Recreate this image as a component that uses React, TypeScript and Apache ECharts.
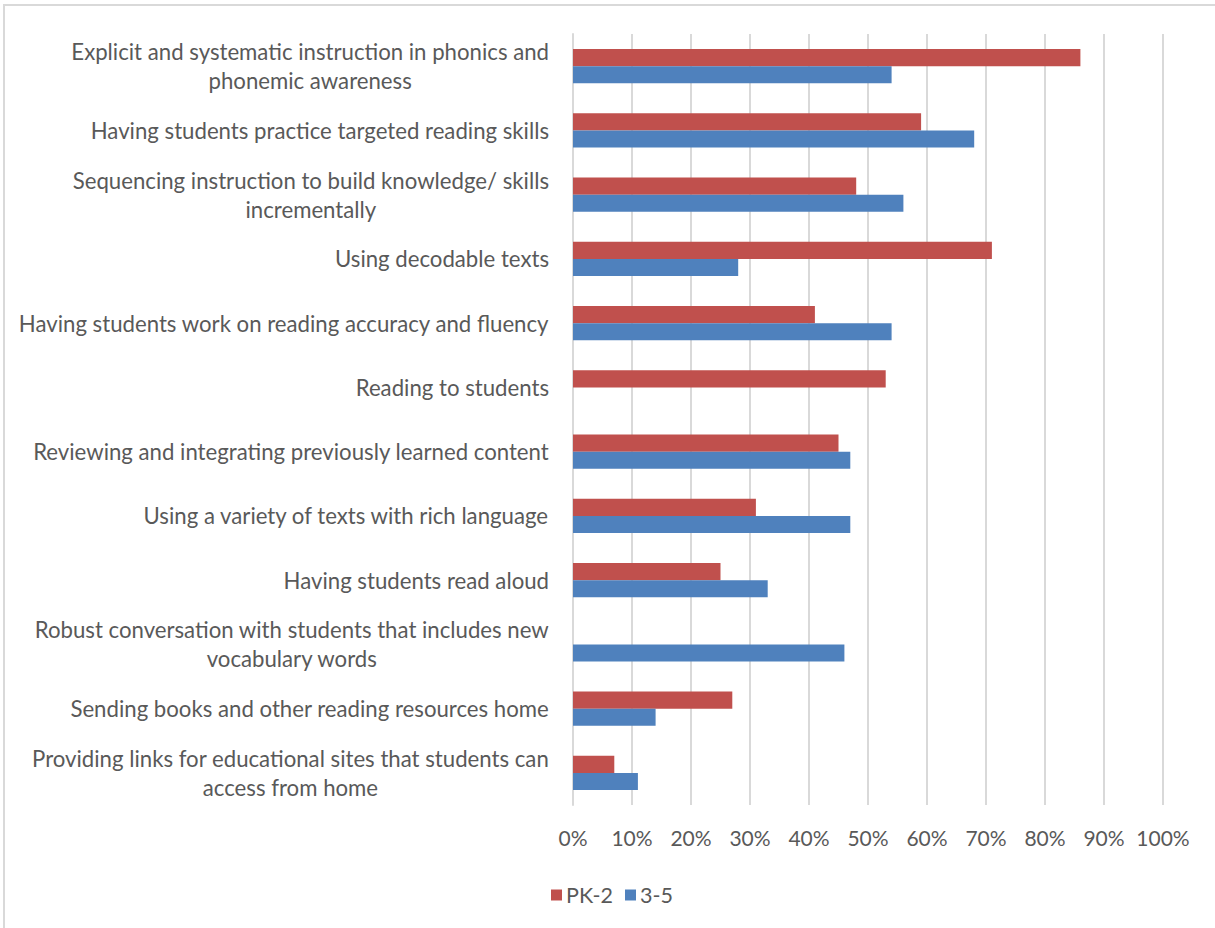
import React, { useEffect, useRef } from "react";
import * as echarts from "echarts";

const categories = [
  "Explicit and systematic instruction in phonics and\nphonemic awareness",
  "Having students practice targeted reading skills",
  "Sequencing instruction to build knowledge/ skills\nincrementally",
  "Using decodable texts",
  "Having students work on reading accuracy and fluency",
  "Reading to students",
  "Reviewing and integrating previously learned content",
  "Using a variety of texts with rich language",
  "Having students read aloud",
  "Robust conversation with students that includes new\nvocabulary words",
  "Sending books and other reading resources home",
  "Providing links for educational sites that students can\naccess from home",
];

const seriesNames = ["PK-2", "3-5"];
const pk2Values = [86, 59, 48, 71, 41, 53, 45, 31, 25, null, 27, 7];
const g35Values = [54, 68, 56, 28, 54, null, 47, 47, 33, 46, 14, 11];

const FONT = "Lato";
const TXT = "#595959";
const LABEL_SIZE = 22.2;

export default function App() {
  const ref = useRef<HTMLDivElement>(null);
  useEffect(() => {
    if (!ref.current) return;
    const chart = echarts.init(ref.current, undefined, { renderer: "svg" });
    chart.setOption({
      animation: false,
      backgroundColor: "#ffffff",
      graphic: [
        {
          type: "rect",
          shape: { x: 4, y: 5, width: 1230, height: 940 },
          style: { fill: "none", stroke: "#d9d9d9", lineWidth: 2 },
          silent: true,
          z: -10,
        },
      ],
      grid: { left: 573, right: 52, top: 34, bottom: 123, containLabel: false },
      legend: {
        left: 546,
        top: 879,
        icon: "rect",
        itemWidth: 11,
        itemHeight: 11,
        itemGap: 12,
        textStyle: { fontFamily: FONT, fontSize: 21.5, color: TXT, padding: [0, 0, 0, -1] },
        data: seriesNames,
      },
      xAxis: {
        type: "value",
        min: 0,
        max: 100,
        interval: 10,
        axisLine: { show: false },
        axisTick: { show: false },
        splitLine: { show: true, lineStyle: { color: "#d9d9d9", width: 2 } },
        axisLabel: {
          formatter: "{value}%",
          fontFamily: FONT,
          fontSize: 21,
          color: TXT,
          margin: 22,
        },
      },
      yAxis: {
        type: "category",
        inverse: true,
        data: categories,
        axisLine: { show: true, lineStyle: { color: "#d9d9d9", width: 2 } },
        axisTick: { show: false },
        axisLabel: {
          margin: 24,
          fontFamily: FONT,
          fontSize: LABEL_SIZE,
          color: TXT,
          lineHeight: 29,
          align: "right",
          formatter: (v: string) =>
            v
              .split("\n")
              .map((l) => "{c|" + l + "}")
              .join("\n"),
          rich: {
            c: {
              align: "center",
              fontFamily: FONT,
              fontSize: LABEL_SIZE,
              color: TXT,
              lineHeight: 29,
            },
          },
        },
      },
      series: [
        {
          name: seriesNames[0],
          type: "bar",
          data: pk2Values,
          itemStyle: { color: "#C0504D" },
          barGap: "0%",
          barCategoryGap: "47%",
        },
        {
          name: seriesNames[1],
          type: "bar",
          data: g35Values,
          itemStyle: { color: "#4F81BD" },
          barGap: "0%",
          barCategoryGap: "47%",
        },
      ],
    });
    return () => chart.dispose();
  }, []);
  return (
    <div
      ref={ref}
      style={{ position: "fixed", left: 0, top: 0, width: 1215, height: 928 }}
    />
  );
}
